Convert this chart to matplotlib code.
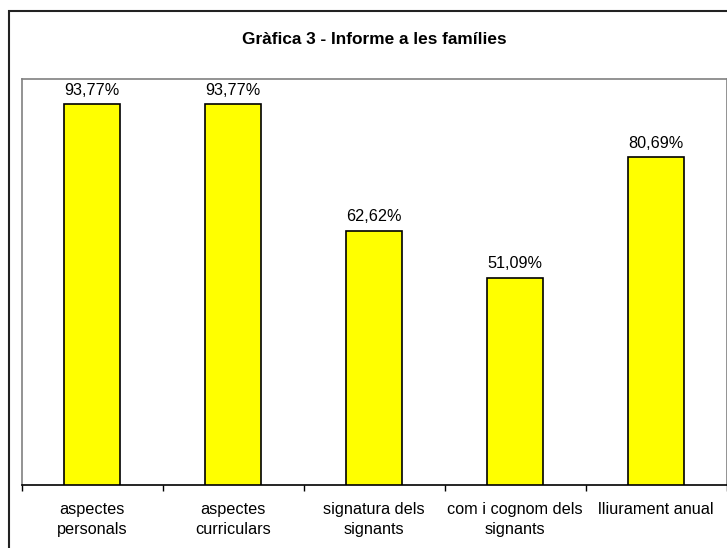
import matplotlib
matplotlib.use("Agg")
import matplotlib.pyplot as plt
from matplotlib.patches import Rectangle
import numpy as np

categories = ["aspectes\npersonals", "aspectes\ncurriculars", "signatura dels\nsignants",
              "com i cognom dels\nsignants", "lliurament anual"]
values = [93.77, 93.77, 62.62, 51.09, 80.69]
value_labels = ["93,77%", "93,77%", "62,62%", "51,09%", "80,69%"]
title = "Gràfica 3 - Informe a les famílies"

plt.rcParams['font.family'] = ['Liberation Sans', 'DejaVu Sans']

W, H = 727, 548
fig = plt.figure(figsize=(W / 100, H / 100), dpi=100)
ax = fig.add_axes([21.7 / W, 1 - 485 / H, (726.5 - 21.7) / W, (485 - 79) / H])

x = np.arange(len(categories))
ax.bar(x, values, width=0.4, color="#FFFF00", edgecolor="black", linewidth=1.2, zorder=3)
for xi, v, lab in zip(x, values, value_labels):
    ax.annotate(lab, (xi, v), xytext=(0, 7), textcoords="offset points",
                ha="center", va="baseline", fontsize=11.7, color="black")

ax.set_xlim(-0.5, len(categories) - 0.5)
ax.set_ylim(0, 100)
ax.set_yticks([])
ax.set_xticks(x)
ax.set_xticklabels(categories, fontsize=11.7, linespacing=1.38)
ax.tick_params(axis="x", which="major", length=0, pad=12.5)
ax.set_xticks(np.arange(len(categories) + 1) - 0.5, minor=True)
ax.tick_params(axis="x", which="minor", length=4.5, width=1, color="black", direction="out")

for s in ["left", "top", "right"]:
    ax.spines[s].set_color("#808080")
    ax.spines[s].set_linewidth(1.2)
ax.spines["bottom"].set_color("black")
ax.spines["bottom"].set_linewidth(1.2)

fig.text(ax.get_position().x0 + ax.get_position().width / 2, 1 - 39 / H, title,
         ha="center", va="center", fontsize=12.4, fontweight="bold")

fig.patches.append(Rectangle((9 / W, -0.1), 1.2, 1 - 11 / H + 0.1, transform=fig.transFigure,
                             fill=False, edgecolor="#222222", linewidth=1.5))

fig.savefig("out.png", dpi=100)
